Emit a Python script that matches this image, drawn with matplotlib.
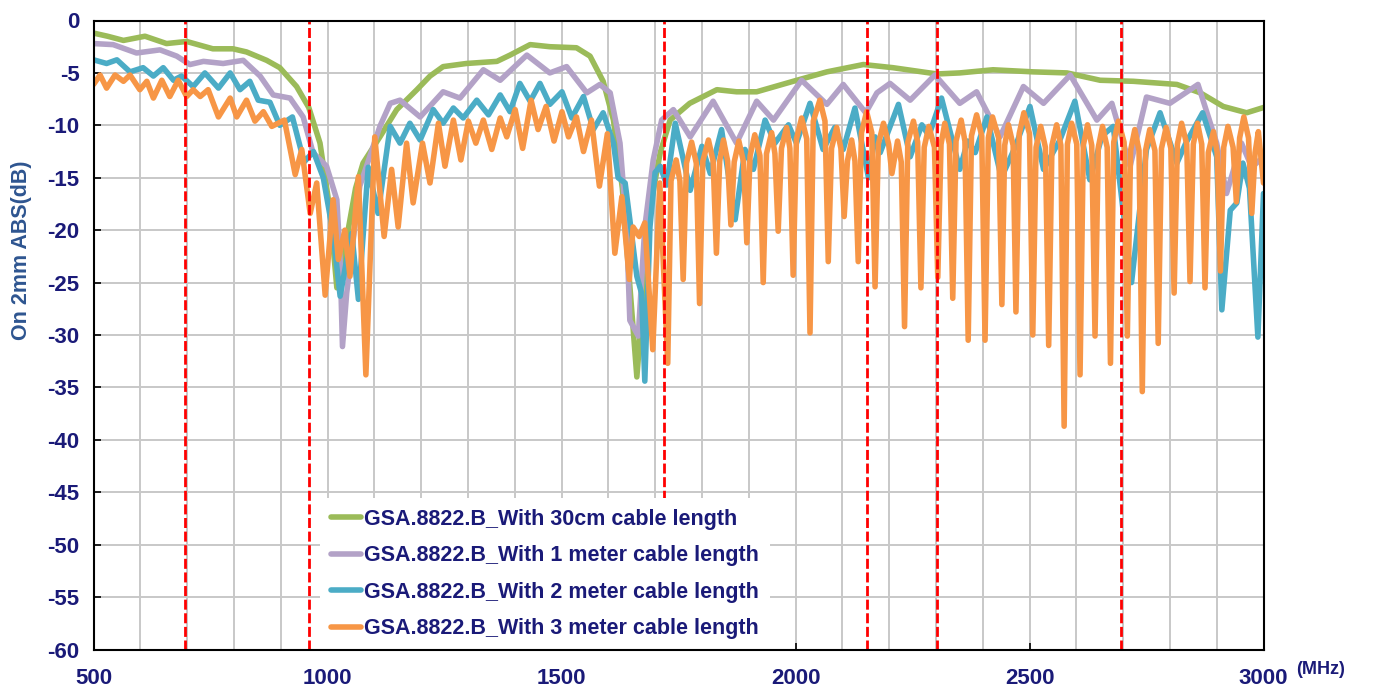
import matplotlib
matplotlib.use("Agg")
import matplotlib.pyplot as plt
import numpy as np

plt.rcParams['font.family'] = ['Liberation Sans', 'DejaVu Sans']
plt.rcParams['axes.unicode_minus'] = False

# Frequency (MHz) / level (dB) for each cable length
x_30cm = [500, 530, 564, 610, 656, 699, 755, 798, 827, 870, 898, 934, 960, 984, 1005,
          1020, 1040, 1060, 1076, 1112, 1148, 1191, 1219, 1247, 1297, 1362, 1390, 1433,
          1475, 1532, 1561, 1589, 1611, 1630, 1661, 1689, 1711, 1732, 1774, 1832, 1874,
          1917, 1995, 2067, 2145, 2208, 2302, 2351, 2422, 2508, 2580, 2651, 2722, 2815,
          2865, 2914, 2964, 3000]
y_30cm = [-1.2, -1.5, -1.9, -1.5, -2.2, -2.0, -2.7, -2.7, -3.0, -3.8, -4.5, -6.3, -8.3,
          -11.7, -18.0, -25.5, -21.0, -16.0, -13.6, -11.1, -8.5, -6.6, -5.3, -4.4, -4.1,
          -3.9, -3.3, -2.3, -2.5, -2.6, -3.4, -5.8, -9.5, -16.0, -34.0, -18.0, -12.6, -9.5,
          -7.9, -6.6, -6.8, -6.8, -5.8, -4.9, -4.2, -4.5, -5.1, -5.0, -4.7, -4.9, -5.0,
          -5.7, -5.8, -6.1, -6.9, -8.2, -8.8, -8.3]

x_1m = [500, 542, 592, 642, 678, 706, 735, 777, 820, 856, 884, 920, 948, 969, 998, 1020,
        1027, 1032, 1041, 1069, 1112, 1134, 1155, 1198, 1247, 1283, 1333, 1369, 1426, 1475,
        1511, 1554, 1582, 1604, 1625, 1639, 1646, 1664, 1678, 1696, 1714, 1739, 1775, 1824,
        1874, 1917, 1953, 2013, 2067, 2102, 2150, 2174, 2202, 2245, 2298, 2351, 2387, 2437,
        2487, 2530, 2587, 2644, 2676, 2715, 2750, 2800, 2860, 2900, 2921, 2953, 2975, 3000]
y_1m = [-2.2, -2.3, -3.1, -2.8, -3.4, -4.2, -3.9, -4.1, -3.8, -5.3, -7.1, -7.4, -9.2,
        -12.6, -13.9, -17.1, -22.8, -31.1, -26.0, -15.8, -10.1, -7.9, -7.6, -9.2, -6.8,
        -7.4, -4.7, -5.7, -3.3, -5.0, -4.4, -6.9, -6.1, -6.9, -11.7, -19.7, -28.6, -30.1,
        -19.7, -13.3, -9.5, -8.5, -11.1, -7.7, -11.7, -7.7, -9.5, -5.7, -8.0, -6.1, -8.8,
        -6.9, -6.0, -7.6, -5.2, -7.9, -6.8, -11.1, -6.3, -7.9, -5.2, -9.5, -7.9, -13.9,
        -7.3, -7.9, -6.1, -11.7, -16.5, -11.7, -14.0, -13.0]

x_2m = [500, 528, 550, 578, 606, 628, 649, 671, 688, 713, 738, 767, 792, 813, 834, 852,
        877, 898, 925, 950, 970, 991, 1012, 1027, 1041, 1052, 1066, 1087, 1108, 1134, 1155,
        1176, 1198, 1226, 1247, 1269, 1290, 1319, 1344, 1369, 1390, 1411, 1433, 1454, 1475,
        1501, 1522, 1547, 1568, 1589, 1611, 1621, 1636, 1646, 1661, 1671, 1678, 1689, 1700,
        1711, 1725, 1743, 1775, 1800, 1818, 1842, 1871, 1892, 1910, 1935, 1956, 1985, 2002,
        2031, 2059, 2084, 2102, 2127, 2156, 2170, 2181, 2220, 2245, 2270, 2285, 2312, 2351,
        2368, 2384, 2409, 2440, 2470, 2501, 2530, 2565, 2597, 2629, 2655, 2679, 2718, 2750,
        2779, 2815, 2834, 2870, 2900, 2911, 2929, 2943, 2956, 2970, 2988, 3000]
y_2m = [-3.75, -4.1, -3.75, -4.9, -4.5, -5.3, -4.5, -5.7, -5.3, -6.3, -5.0, -6.45, -5.0,
        -6.6, -5.8, -7.6, -7.8, -10.0, -9.2, -13.5, -12.5, -15.0, -20.3, -26.3, -22.8,
        -20.3, -26.6, -14.0, -18.4, -10.1, -11.7, -9.8, -11.4, -8.5, -9.8, -8.35, -9.3,
        -7.6, -9.0, -7.1, -8.7, -6.0, -7.7, -6.0, -8.0, -6.8, -9.3, -7.25, -10.4, -8.8,
        -11.7, -15.0, -15.5, -19.0, -24.4, -26.0, -34.4, -19.7, -14.5, -13.9, -15.7, -9.8,
        -16.2, -12.0, -14.6, -10.4, -19.0, -12.3, -14.2, -9.5, -11.7, -9.95, -11.7, -7.9,
        -12.3, -10.2, -12.3, -8.35, -15.0, -11.1, -12.6, -8.0, -13.0, -9.95, -11.0, -7.4,
        -14.2, -11.5, -12.6, -9.2, -15.0, -12.0, -8.2, -14.2, -11.4, -7.7, -15.2, -11.0,
        -10.1, -25.0, -12.3, -8.8, -13.6, -11.7, -8.8, -13.0, -27.6, -18.1, -17.4, -13.6,
        -16.0, -30.2, -16.5]

x_3m = [500, 514, 528, 546, 564, 578, 599, 614, 628, 646, 663, 681, 699, 713, 728, 745,
        767, 792, 806, 827, 845, 863, 881, 908, 931, 945, 963, 977, 995, 1012, 1023, 1037,
        1048, 1066, 1082, 1101, 1121, 1137, 1151, 1169, 1183, 1203, 1219, 1237, 1251, 1269,
        1285, 1301, 1317, 1333, 1351, 1369, 1383, 1401, 1417, 1435, 1450, 1467, 1484, 1501,
        1515, 1532, 1547, 1564, 1581, 1598, 1614, 1629, 1645, 1653, 1666, 1678, 1695, 1710,
        1727, 1734, 1745,
        1753, 1760, 1767, 1778, 1788, 1795, 1802, 1814, 1824, 1831, 1838, 1846,
        1855, 1862, 1869, 1879, 1889, 1896, 1903, 1913, 1924, 1931, 1938, 1949,
        1956, 1963, 1970, 1981, 1988, 1995, 2002, 2013, 2024, 2031, 2038, 2052,
        2063, 2070, 2077, 2088, 2097, 2104, 2111, 2120, 2127, 2134, 2141, 2152,
        2163, 2170, 2177, 2188, 2199, 2206, 2218,
        2226, 2233, 2240, 2252, 2261, 2268, 2275, 2285, 2297, 2304, 2311, 2319,
        2329, 2336, 2343, 2354, 2362, 2369, 2376, 2387, 2398, 2405, 2412, 2421,
        2434, 2441, 2447, 2455, 2465, 2471, 2478, 2488, 2500, 2507, 2514, 2524,
        2534, 2541, 2548, 2558, 2567, 2574, 2581, 2590, 2601, 2608, 2615, 2624,
        2633, 2640, 2647, 2656, 2666, 2673, 2680, 2690, 2702, 2709, 2716, 2725,
        2734, 2741, 2748, 2757, 2768, 2775, 2782, 2792, 2802, 2809, 2816, 2825,
        2836, 2843, 2850, 2859, 2868, 2875, 2882, 2893, 2901, 2908, 2915, 2924,
        2935, 2942, 2949, 2958, 2968, 2975, 2982, 2989, 3000]
y_3m = [-6.1, -5.2, -6.45, -5.2, -5.8, -5.2, -6.6, -5.8, -7.4, -5.7, -7.25, -5.7, -7.25,
        -6.6, -7.25, -6.6, -9.2, -7.4, -9.2, -7.6, -9.6, -8.7, -10.1, -9.5, -14.7, -12.3,
        -18.4, -15.5, -26.2, -17.1, -22.8, -20.0, -24.4, -14.9, -33.8, -11.1, -20.6, -14.2,
        -19.7, -11.7, -17.4, -11.7, -15.5, -9.8, -13.9, -9.5, -13.3, -9.6, -11.7, -9.5,
        -12.3, -9.3, -11.1, -8.5, -12.2, -7.6, -10.4, -8.2, -11.5, -8.7, -11.1, -9.2, -12.5,
        -9.5, -15.8, -10.8, -22.2, -16.8, -24.7, -19.7, -20.6, -19.3, -31.4, -15.5,
        -32.7, -15.3, -13.3,
        -15.3, -24.7, -13.6, -11.6, -13.6, -27.0, -13.4, -11.4, -13.4, -22.2, -13.4, -11.4,
        -13.4, -19.5, -13.5, -11.5, -13.5, -21.2, -12.9, -10.9, -12.9, -25.0, -12.7, -10.7,
        -12.7, -20.1, -12.2, -10.2, -12.2, -24.3, -11.3, -9.3, -11.3, -29.8, -9.6, -7.6,
        -9.6, -23.0, -12.2, -10.2, -12.2, -18.7, -13.4, -11.4, -13.4, -23.0, -10.7, -8.7,
        -10.7, -25.4, -11.8, -9.8, -11.8, -14.6, -11.5,
        -13.5, -29.2, -11.6, -9.6, -11.6, -25.5, -12.1, -10.1, -12.1, -24.5, -11.8, -9.8,
        -11.8, -26.5, -11.5, -9.5, -11.5, -30.5, -11.0, -9.0, -11.0, -30.5, -11.2, -9.2,
        -11.2, -27.1, -11.9, -9.95, -11.9, -27.8, -10.8, -8.8, -10.8, -30.0, -12.1, -10.1,
        -12.1, -31.0, -11.9, -9.95, -11.9, -38.7, -11.8, -9.8, -11.8, -33.8, -11.9, -9.95,
        -11.9, -30.1, -12.1, -10.1, -12.1, -32.7, -11.6, -9.6, -11.6, -30.1, -12.4, -10.4,
        -12.4, -35.4, -12.4, -10.4, -12.4, -30.8, -12.2, -10.2, -12.2, -26.0, -11.8, -9.8,
        -11.8, -24.9, -11.8, -9.8, -11.8, -25.5, -12.6, -10.6, -12.6, -23.9, -12.1, -10.1,
        -12.1, -17.3, -11.2, -9.2, -11.2, -18.4, -12.6, -10.6, -15.5]

labels = ["GSA.8822.B_With 30cm cable length",
          "GSA.8822.B_With 1 meter cable length",
          "GSA.8822.B_With 2 meter cable length",
          "GSA.8822.B_With 3 meter cable length"]
colors = ["#9BBB59", "#B3A2C7", "#4BACC6", "#F79646"]

# Band edges marked with dashed red lines (MHz)
band_edges = [696, 960, 1719, 2152, 2303, 2695]

x_ticks = [500, 1000, 1500, 2000, 2500, 3000]
y_ticks = list(range(-60, 1, 5))

navy = "#1A1A78"

fig = plt.figure(figsize=(13.76, 6.90), dpi=100)
ax = fig.add_axes([93.5 / 1376, 40.5 / 690, 1170 / 1376, 629 / 690])

series = [(x_30cm, y_30cm), (x_1m, y_1m), (x_2m, y_2m), (x_3m, y_3m)]
for (xs, ys), lab, col in zip(series, labels, colors):
    ax.plot(xs, ys, color=col, lw=4.0, label=lab, solid_joinstyle='round',
            solid_capstyle='round', zorder=3)

for xe in band_edges:
    ax.axvline(xe, color="#FF0000", lw=2.0, dashes=(3.6, 1.3), zorder=4)

ax.set_xlim(500, 3000)
ax.set_ylim(-60, 0)
ax.set_xticks(x_ticks)
ax.set_xticks(np.arange(500, 3001, 100), minor=True)
ax.set_yticks(y_ticks)
ax.grid(which='both', axis='x', color="#C8C8C8", lw=1.4, zorder=0)
ax.grid(which='major', axis='y', color="#C8C8C8", lw=1.4, zorder=0)
ax.set_axisbelow(True)

ax.tick_params(axis='both', which='major', direction='in', length=5, width=1.2,
               colors='black', labelcolor=navy, labelsize=16)
ax.tick_params(axis='both', which='minor', length=0)
ax.tick_params(axis='x', pad=13)
ax.tick_params(axis='y', pad=10)
for lab in ax.get_xticklabels() + ax.get_yticklabels():
    lab.set_fontweight('bold')
for sp in ax.spines.values():
    sp.set_color('black')
    sp.set_linewidth(1.5)
    sp.set_zorder(6)

fig.text(22 / 1376, 1 - 250 / 690, "On 2mm ABS(dB)", rotation=90, ha='center',
         va='center', color="#2E5590", fontsize=15.5, fontweight='bold')
fig.text(1296 / 1376, 1 - 670 / 690, "(MHz)", ha='left', va='center', color=navy,
         fontsize=13, fontweight='bold')

leg = ax.legend(loc='upper left', bbox_to_anchor=(0.1842, 0.258), frameon=True,
                facecolor='white', edgecolor='none', framealpha=1.0, fancybox=False,
                fontsize=15.5, handlelength=1.4, handletextpad=0.15, labelspacing=0.72,
                borderpad=0.5)
for t in leg.get_texts():
    t.set_color(navy)
    t.set_fontweight('bold')
leg.set_zorder(5)

fig.savefig("out.png", dpi=100)
